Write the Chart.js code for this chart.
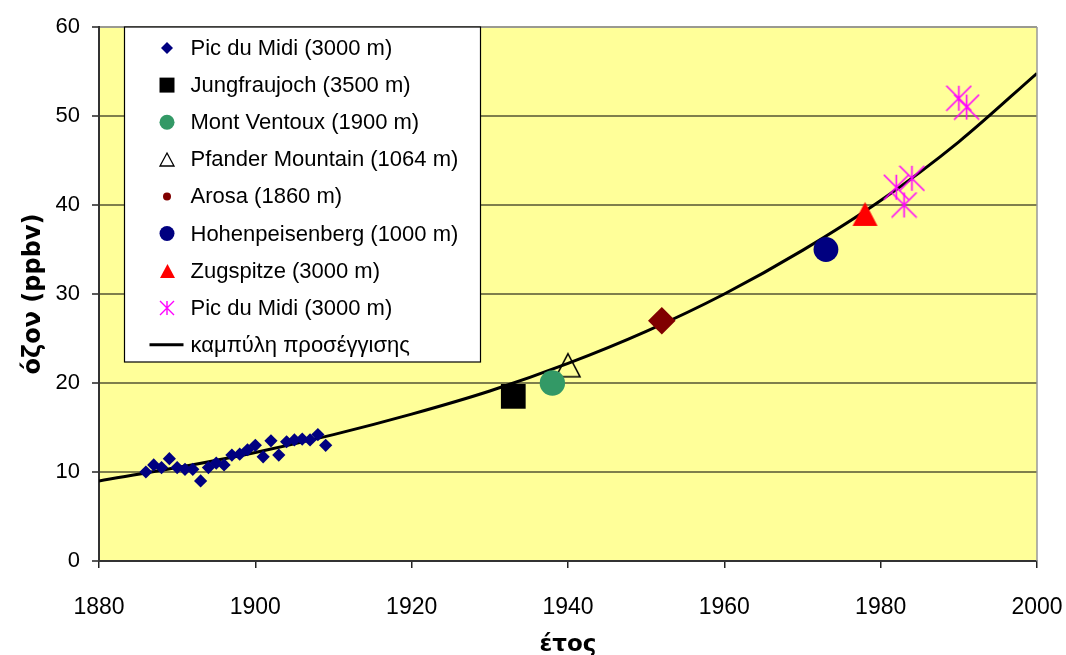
<!DOCTYPE html>
<html>
<head>
<meta charset="utf-8">
<script src="https://cdn.jsdelivr.net/npm/chart.js@4.4.0/dist/chart.umd.min.js"></script>
<style>
    html, body { margin: 0; padding: 0; background: #fff; }
    #wrap { width: 1066px; height: 655px; }
</style>
</head>
<body>
<div id="wrap"><canvas id="graphCanvasOzone" width="1066" height="655"></canvas></div>
<script>
// data
var picYears = [1886, 1887, 1888, 1889, 1890, 1891, 1892, 1893, 1894, 1895, 1896, 1897,
                1898, 1899, 1900, 1901, 1902, 1903, 1904, 1905, 1906, 1907, 1908, 1909];
var picOzone = [10.0, 10.8, 10.5, 11.5, 10.5, 10.3, 10.3, 9.0, 10.5, 11.0, 10.8, 11.9,
                12.0, 12.5, 13.0, 11.7, 13.5, 11.9, 13.4, 13.6, 13.7, 13.6, 14.2, 13.0];
var jungYears = [1933];
var jungOzone = [18.5];
var ventouxYears = [1938];
var ventouxOzone = [20];
var pfanderYears = [1940];
var pfanderOzone = [22];
var arosaYears = [1952];
var arosaOzone = [27];
var hohenYears = [1973];
var hohenOzone = [35];
var zugYears = [1978];
var zugOzone = [39];
var pic2Years = [1982, 1983, 1984, 1990, 1991];
var pic2Ozone = [42, 40, 43, 52, 51];
var fitYears = [1880, 1890, 1900, 1910, 1920, 1930, 1940, 1950, 1960, 1970, 1980, 1990, 2000];
var fitOzone = [9.0, 10.5, 12.2, 14.2, 16.5, 19.1, 22.2, 25.8, 30.0, 34.9, 40.5, 47.1, 54.8];
var xTicks = [1880, 1900, 1920, 1940, 1960, 1980, 2000];
var yTicks = [0, 10, 20, 30, 40, 50, 60];

function toPoints(xs, ys) {
    return xs.map(function(x, i) { return { x: x, y: ys[i] }; });
}

function makeTriangle(w, h, fill, stroke, lw) {
    var c = document.createElement('canvas');
    c.width = Math.ceil(w + lw + 2);
    c.height = Math.ceil(h + lw + 2);
    var g = c.getContext('2d');
    var ox = (c.width - w) / 2, oy = (c.height - h) / 2;
    g.beginPath();
    g.moveTo(ox + w / 2, oy);
    g.lineTo(ox + w, oy + h);
    g.lineTo(ox, oy + h);
    g.closePath();
    if (fill) { g.fillStyle = fill; g.fill(); }
    if (stroke) { g.strokeStyle = stroke; g.lineWidth = lw; g.stroke(); }
    return c;
}

function makeStar(s, color, lw) {
    var c = document.createElement('canvas');
    c.width = s + 2;
    c.height = s + 2;
    var g = c.getContext('2d');
    g.strokeStyle = color;
    g.lineWidth = lw;
    g.beginPath();
    g.moveTo(1 + s / 2, 1); g.lineTo(1 + s / 2, 1 + s);
    g.moveTo(1, 1); g.lineTo(1 + s, 1 + s);
    g.moveTo(1 + s, 1); g.lineTo(1, 1 + s);
    g.stroke();
    return c;
}

var triOpen = makeTriangle(24, 23, null, '#000', 1.6);
var triRed = makeTriangle(25, 24, '#ff0000', null, 0);
var star = makeStar(25, '#ff00ff', 1.6);

// legend marks (smaller copies)
var legTriOpen = makeTriangle(14, 13, null, '#000', 1.3);
var legTriRed = makeTriangle(15, 14, '#ff0000', null, 0);
var legStar = makeStar(14, '#ff00ff', 1.4);

var plotBackground = {
    id: 'plotBackground',
    beforeDraw: function(chart) {
        var a = chart.chartArea, ctx = chart.ctx;
        ctx.save();
        ctx.fillStyle = '#ffff99';
        ctx.fillRect(a.left, a.top, a.right - a.left, a.bottom - a.top);
        ctx.restore();
    },
    afterDraw: function(chart) {
        var a = chart.chartArea, ctx = chart.ctx;
        ctx.save();
        ctx.strokeStyle = '#999999';
        ctx.lineWidth = 1.5;
        ctx.beginPath();
        ctx.moveTo(a.right, a.top);
        ctx.lineTo(a.right, a.bottom);
        ctx.stroke();
        ctx.restore();
    }
};

var legendBox = {
    id: 'legendBox',
    afterDatasetsDraw: function(chart) {
        var ctx = chart.ctx, a = chart.chartArea;
        var left = a.left + 25.5, top = a.top, w = 356, h = 335;
        ctx.save();
        ctx.fillStyle = '#ffffff';
        ctx.fillRect(left, top, w, h);
        ctx.strokeStyle = '#000';
        ctx.lineWidth = 1.2;
        ctx.strokeRect(left, top, w, h);
        ctx.font = '22px "Liberation Sans", Arial, sans-serif';
        ctx.textBaseline = 'middle';
        chart.data.datasets.forEach(function(ds, i) {
            var m = ds.legendMark;
            var y = top + 21 + i * 37.1;
            var x = left + 42.5;
            if (m.img) {
                ctx.drawImage(m.img, Math.round(x - m.img.width / 2), Math.round(y - m.img.height / 2));
            } else if (m.style === 'line') {
                ctx.strokeStyle = m.color;
                ctx.lineWidth = 3;
                ctx.beginPath();
                ctx.moveTo(x - 17.5, y);
                ctx.lineTo(x + 16.5, y);
                ctx.stroke();
            } else {
                ctx.fillStyle = m.color;
                Chart.helpers.drawPoint(ctx, { pointStyle: m.style, radius: m.r, rotation: 0, borderWidth: 0 }, x, y);
            }
            ctx.fillStyle = '#000';
            ctx.fillText(ds.label, left + 66, y + 1);
        });
        ctx.restore();
    }
};

var graphTarget = document.getElementById('graphCanvasOzone');

var chart = new Chart(graphTarget, {
    type: 'scatter',
    data: {
        datasets: [{
            label: 'Pic du Midi (3000 m)',
            data: toPoints(picYears, picOzone),
            pointStyle: 'rectRot',
            pointRadius: 6.6,
            backgroundColor: '#000080',
            borderWidth: 0,
            legendMark: { style: 'rectRot', r: 6, color: '#000080' }
        }, {
            label: 'Jungfraujoch (3500 m)',
            data: toPoints(jungYears, jungOzone),
            pointStyle: 'rect',
            pointRadius: 17.5,
            backgroundColor: '#000000',
            borderWidth: 0,
            legendMark: { style: 'rect', r: 10.6, color: '#000000' }
        }, {
            label: 'Mont Ventoux (1900 m)',
            data: toPoints(ventouxYears, ventouxOzone),
            pointStyle: 'circle',
            pointRadius: 12.7,
            backgroundColor: '#339966',
            borderWidth: 0,
            legendMark: { style: 'circle', r: 7.5, color: '#339966' }
        }, {
            label: 'Pfander Mountain (1064 m)',
            data: toPoints(pfanderYears, pfanderOzone),
            pointStyle: triOpen,
            pointRadius: 12,
            legendMark: { img: legTriOpen }
        }, {
            label: 'Arosa (1860 m)',
            data: toPoints(arosaYears, arosaOzone),
            pointStyle: 'rectRot',
            pointRadius: 13.8,
            backgroundColor: '#800000',
            borderWidth: 0,
            legendMark: { style: 'circle', r: 4, color: '#800000' }
        }, {
            label: 'Hohenpeisenberg (1000 m)',
            data: toPoints(hohenYears, hohenOzone),
            pointStyle: 'circle',
            pointRadius: 12.4,
            backgroundColor: '#000080',
            borderWidth: 0,
            legendMark: { style: 'circle', r: 7.5, color: '#000080' }
        }, {
            label: 'Zugspitze (3000 m)',
            data: toPoints(zugYears, zugOzone),
            pointStyle: triRed,
            pointRadius: 12,
            legendMark: { img: legTriRed }
        }, {
            label: 'Pic du Midi (3000 m)',
            data: toPoints(pic2Years, pic2Ozone),
            pointStyle: star,
            pointRadius: 12,
            legendMark: { img: legStar }
        }, {
            label: 'καμπύλη προσέγγισης',
            data: toPoints(fitYears, fitOzone),
            showLine: true,
            pointRadius: 0,
            borderColor: '#000000',
            borderWidth: 3,
            fill: false,
            cubicInterpolationMode: 'monotone',
            legendMark: { style: 'line', color: '#000000' }
        }]
    },
    options: {
        responsive: false,
        devicePixelRatio: 1,
        animation: false,
        layout: { padding: { top: 27, right: 29, left: 0, bottom: 0 } },
        plugins: {
            legend: { display: false },
            tooltip: { enabled: false }
        },
        font: { family: '"Liberation Sans", Arial, sans-serif' },
        scales: {
            x: {
                type: 'linear',
                min: 1880,
                max: 2000,
                afterBuildTicks: function(scale) {
                    scale.ticks = xTicks.map(function(v) { return { value: v }; });
                },
                ticks: {
                    color: '#000',
                    font: { size: 23, family: '"Liberation Sans", Arial, sans-serif' },
                    padding: 26,
                    maxRotation: 0,
                    callback: function(v) { return String(v); }
                },
                grid: { drawOnChartArea: false, tickLength: 7, tickColor: '#222', lineWidth: 1.5 },
                border: { color: '#333', width: 2 },
                title: {
                    display: true,
                    text: 'έτος',
                    color: '#000',
                    font: { size: 23, weight: 'bold', family: '"DejaVu Sans", sans-serif' },
                    padding: { top: 0, bottom: -4 }
                },
                afterFit: function(scale) {
                    scale.height = 94;
                    scale.paddingLeft = 0;
                    scale.paddingRight = 0;
                }
            },
            y: {
                min: 0,
                max: 60,
                afterBuildTicks: function(scale) {
                    scale.ticks = yTicks.map(function(v) { return { value: v }; });
                },
                ticks: {
                    color: '#000',
                    font: { size: 22, family: '"Liberation Sans", Arial, sans-serif' },
                    padding: 12
                },
                grid: {
                    color: function(c) { return c.tick && c.tick.value === 60 ? '#9a9a90' : '#7f7f4c'; },
                    lineWidth: 2,
                    tickLength: 7,
                    tickColor: '#222',
                    tickWidth: 1.5
                },
                border: { color: '#333', width: 2 },
                title: {
                    display: true,
                    text: 'όζον (ppbv)',
                    color: '#000',
                    font: { size: 24, weight: 'bold', family: '"DejaVu Sans", sans-serif' },
                    padding: { top: 19, bottom: 0 }
                },
                afterFit: function(scale) { scale.width = 99; }
            }
        }
    },
    plugins: [plotBackground, legendBox]
});
</script>
</body>
</html>
